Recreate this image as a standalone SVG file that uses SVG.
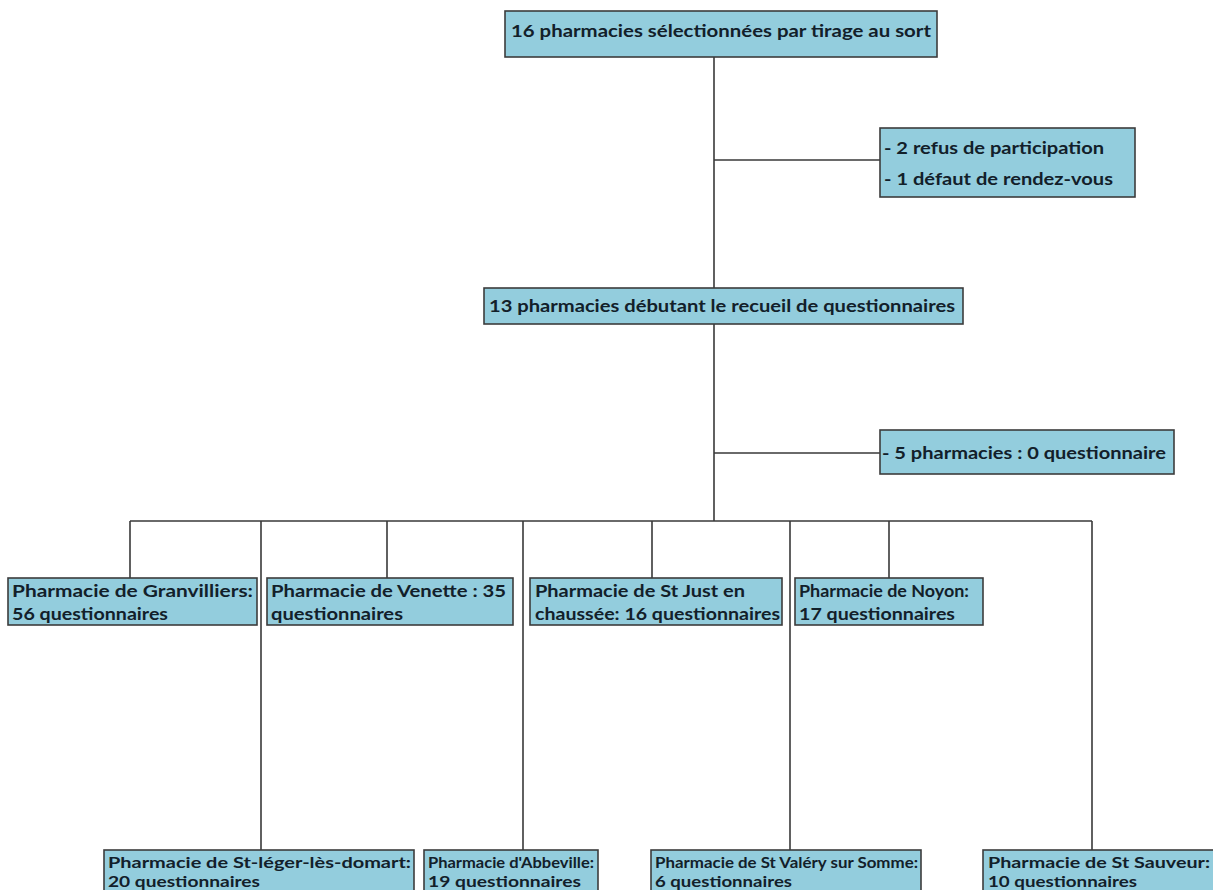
<svg xmlns="http://www.w3.org/2000/svg" width="1213" height="890" viewBox="0 0 1213 890">
<style>
.box{fill:#93cddd;stroke:#3c3c3c;stroke-width:1.6}
.t{font-family:Lato,"Liberation Sans",sans-serif;font-weight:bold;font-size:17px;fill:#12202a}
.s{font-size:16px}
.c{stroke:#3a3a3a;stroke-width:1.6;fill:none}
</style>
<rect width="1213" height="890" fill="#ffffff"/>
<g id="connectors">
<path class="c" d="M714 57V288M714 160H880M714 324V521M714 453H880"/>
<path class="c" d="M130 521H1092M130 521V578M261 521V851M387 521V578M523 521V851M652 521V578M790 521V851M889 521V578M1092 521V851"/>
</g>
<g id="n-top"><rect class="box" x="505" y="11" width="432" height="46"/>
<text class="t" x="511" y="37" textLength="420" lengthAdjust="spacingAndGlyphs">16 pharmacies sélectionnées par tirage au sort</text></g>
<g id="n-excl1"><rect class="box" x="880" y="128" width="255" height="69"/>
<text class="t" x="884" y="154" textLength="220" lengthAdjust="spacingAndGlyphs">- 2 refus de participation</text>
<text class="t" x="884" y="185" textLength="229" lengthAdjust="spacingAndGlyphs">- 1 défaut de rendez-vous</text></g>
<g id="n-mid"><rect class="box" x="484" y="288" width="479" height="36"/>
<text class="t" x="489" y="312" textLength="466" lengthAdjust="spacingAndGlyphs">13 pharmacies débutant le recueil de questionnaires</text></g>
<g id="n-excl2"><rect class="box" x="880" y="430" width="294" height="44"/>
<text class="t" x="882" y="459" textLength="284" lengthAdjust="spacingAndGlyphs">- 5 pharmacies : 0 questionnaire</text></g>
<g id="n-granvilliers"><rect class="box" x="8" y="578" width="249" height="47"/>
<text class="t" x="12" y="597" textLength="241" lengthAdjust="spacingAndGlyphs">Pharmacie de Granvilliers:</text>
<text class="t" x="12" y="620" textLength="156" lengthAdjust="spacingAndGlyphs">56 questionnaires</text></g>
<g id="n-venette"><rect class="box" x="267" y="578" width="246" height="47"/>
<text class="t" x="271" y="597" textLength="235" lengthAdjust="spacingAndGlyphs">Pharmacie de Venette : 35</text>
<text class="t" x="271" y="620" textLength="132" lengthAdjust="spacingAndGlyphs">questionnaires</text></g>
<g id="n-stjust"><rect class="box" x="530" y="578" width="252" height="47"/>
<text class="t" x="535" y="597" textLength="210" lengthAdjust="spacingAndGlyphs">Pharmacie de St Just en</text>
<text class="t" x="535" y="620" textLength="245" lengthAdjust="spacingAndGlyphs">chaussée: 16 questionnaires</text></g>
<g id="n-noyon"><rect class="box" x="795" y="578" width="188" height="47"/>
<text class="t" x="799" y="597" textLength="170" lengthAdjust="spacingAndGlyphs">Pharmacie de Noyon:</text>
<text class="t" x="799" y="620" textLength="156" lengthAdjust="spacingAndGlyphs">17 questionnaires</text></g>
<g id="n-stleger"><rect class="box" x="104" y="850" width="310" height="46"/>
<text class="t s" x="108" y="868" textLength="303" lengthAdjust="spacingAndGlyphs">Pharmacie de St-léger-lès-domart:</text>
<text class="t s" x="108" y="887" textLength="152" lengthAdjust="spacingAndGlyphs">20 questionnaires</text></g>
<g id="n-abbeville"><rect class="box" x="424" y="850" width="174" height="46"/>
<text class="t s" x="428" y="868" textLength="166" lengthAdjust="spacingAndGlyphs">Pharmacie d'Abbeville:</text>
<text class="t s" x="428" y="887" textLength="153" lengthAdjust="spacingAndGlyphs">19 questionnaires</text></g>
<g id="n-stvalery"><rect class="box" x="651" y="850" width="270" height="46"/>
<text class="t s" x="655" y="868" textLength="263" lengthAdjust="spacingAndGlyphs">Pharmacie de St Valéry sur Somme:</text>
<text class="t s" x="655" y="887" textLength="137" lengthAdjust="spacingAndGlyphs">6 questionnaires</text></g>
<g id="n-stsauveur"><rect class="box" x="983" y="850" width="232" height="46"/>
<text class="t s" x="988" y="868" textLength="222" lengthAdjust="spacingAndGlyphs">Pharmacie de St Sauveur:</text>
<text class="t s" x="988" y="887" textLength="149" lengthAdjust="spacingAndGlyphs">10 questionnaires</text></g>
</svg>
